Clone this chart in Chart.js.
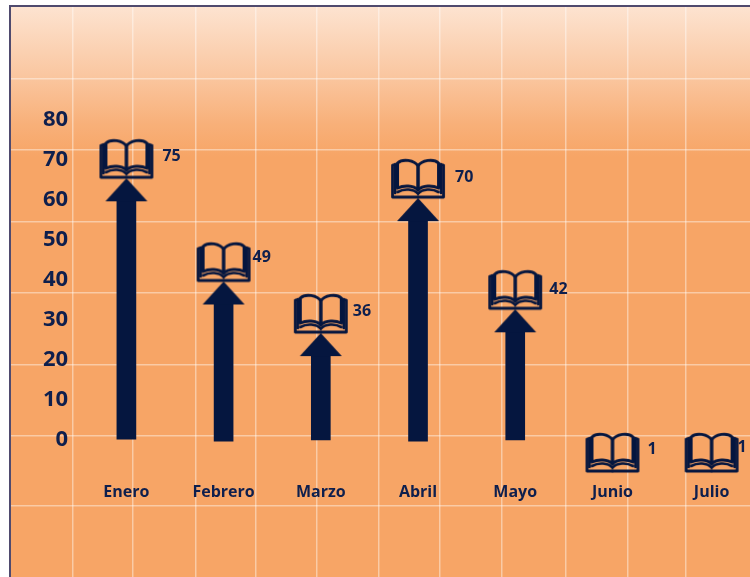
<!DOCTYPE html>
<html><head><meta charset="utf-8">
<script src="https://cdn.jsdelivr.net/npm/chart.js@4/dist/chart.umd.min.js"></script>
<style>html,body{margin:0;padding:0;background:#fff;overflow:hidden}canvas{display:block}</style>
</head><body><canvas id="c" width="750" height="577"></canvas>
<script>
const months = ['Enero','Febrero','Marzo','Abril','Mayo','Junio','Julio'];
const values = [75,49,36,70,42,1,1];
const arrowBase = [9.3,8.8,9.1,8.8,9.1,null,null];
const yTickValues = [0,10,20,30,40,50,60,70,80];
const slots = [0,1,2,3,4,5,6.02];
const gridColumns = [0,0.98,2,2.98,3.97,4.97,5.96,6.97,8.01,9.01,9.96];
const gridRows = [-0.97,0,1,2,3,4,5];
const labelNudge = [[36,-22],[29,-24],[32,-22],[37,-21],[34,-20],[35,-23],[26,-25]];

const INK = '#05163f', TEXT = '#0e1f4d';
const FONT = '"Open Sans", sans-serif';

function makeBook(){
  const c = document.createElement('canvas'); c.width = 56; c.height = 84;
  const g = c.getContext('2d');
  g.strokeStyle = INK; g.lineJoin = 'round'; g.lineCap = 'round';
  g.translate(1.5, 3);
  const half = s => {
    g.save();
    if (s < 0) { g.translate(53, 0); g.scale(-1, 1); }
    g.lineWidth = 3;
    g.beginPath(); g.moveTo(26.5,7); g.bezierCurveTo(23,1,11,-1,6,4); g.lineTo(6,29);
    g.bezierCurveTo(12,26,22,26,26.5,31); g.lineTo(26.5,7); g.stroke();
    g.lineWidth = 2.6;
    g.beginPath(); g.moveTo(6,33); g.bezierCurveTo(13,29,22,30,26.5,34.5); g.stroke();
    g.beginPath(); g.moveTo(3.6,5); g.lineTo(3.6,34); g.stroke();
    g.lineWidth = 2.8;
    g.beginPath(); g.moveTo(5,5); g.lineTo(1,6); g.lineTo(1,38); g.lineTo(26.5,38); g.stroke();
    g.restore();
  };
  half(1); half(-1);
  return c;
}
function makeHead(){
  const c = document.createElement('canvas'); c.width = 44; c.height = 48;
  const g = c.getContext('2d');
  g.fillStyle = INK;
  g.beginPath(); g.moveTo(22,24); g.lineTo(43,47); g.lineTo(1,47); g.closePath(); g.fill();
  return c;
}

const backdrop = {
  id:'backdrop',
  beforeDraw(ch){
    const {ctx, chartArea:a} = ch;
    const g = ctx.createLinearGradient(0,a.top,0,a.top+150);
    g.addColorStop(0,'#fde3d0'); g.addColorStop(0.45,'#fac7a1');
    g.addColorStop(0.78,'#f8b079'); g.addColorStop(1,'#f7a566');
    ctx.save();
    ctx.fillStyle = g; ctx.fillRect(a.left,a.top,a.right-a.left,a.bottom-a.top);
    ctx.strokeStyle = '#4f4a6e'; ctx.lineWidth = 2;
    ctx.beginPath(); ctx.moveTo(a.left-1,a.bottom); ctx.lineTo(a.left-1,a.top-1); ctx.lineTo(a.right,a.top-1); ctx.stroke();
    ctx.restore();
  }
};
const valueLabels = {
  id:'valueLabels',
  afterDatasetsDraw(ch){
    const {ctx, scales:{x,y}} = ch;
    ctx.save();
    ctx.font = '700 16px '+FONT; ctx.fillStyle = TEXT;
    ctx.textAlign='left'; ctx.textBaseline='middle';
    values.forEach((v,i)=>{
      ctx.fillText(String(v), x.getPixelForValue(slots[i])+labelNudge[i][0], y.getPixelForValue(v)+labelNudge[i][1]);
    });
    ctx.restore();
  }
};

const noPad = s=>{s.paddingTop=0;s.paddingBottom=0;s.paddingLeft=0;s.paddingRight=0;};
const gridLine = {color:'rgba(255,255,255,0.42)', lineWidth:1.5, drawTicks:false, offset:false};
new Chart(document.getElementById('c'),{
  type:'bar',
  data:{datasets:[
    {type:'scatter',label:'Libros',order:1,clip:false,xAxisID:'x',yAxisID:'y',
      data:values.map((v,i)=>({x:slots[i],y:v})),pointStyle:makeBook(),pointRadius:5,showLine:false},
    {type:'scatter',label:'Puntas',order:2,clip:false,xAxisID:'x',yAxisID:'y',
      data:values.map((v,i)=>({x:slots[i],y:arrowBase[i]===null?null:v})),pointStyle:makeHead(),pointRadius:5,showLine:false},
    {type:'bar',label:'Flechas',order:3,clip:false,xAxisID:'x',yAxisID:'y',
      data:values.map((v,i)=>({x:slots[i],y:arrowBase[i]===null?null:[arrowBase[i],v-5]})),
      backgroundColor:INK,barThickness:19,borderWidth:0}
  ]},
  plugins:[backdrop,valueLabels],
  options:{
    responsive:false,animation:false,
    layout:{autoPadding:false,padding:{left:11,top:7,right:0,bottom:0}},
    plugins:{legend:{display:false},tooltip:{enabled:false},title:{display:false}},
    scales:{
      x:{type:'linear',offset:false,min:-1.187,max:6.415,position:{y:0.27},afterFit:noPad,
        grid:{display:false,offset:false},border:{display:false},
        afterBuildTicks:s=>{s.ticks=months.map((m,i)=>({value:slots[i],label:m}));},
        ticks:{autoSkip:false,maxRotation:0,padding:0,color:TEXT,font:{family:FONT,size:16,weight:'bold'},
          callback:(v,i)=>months[i]}},
      y:{type:'linear',min:-25.44,max:118.14,display:false},
      yTicks:{axis:'y',type:'linear',min:-34.25,max:108.25,position:{x:-0.6},afterFit:noPad,
        grid:{display:false},border:{display:false},
        afterBuildTicks:s=>{s.ticks=yTickValues.map(v=>({value:v}));},
        ticks:{padding:0,color:TEXT,font:{family:FONT,size:22,weight:'bold'}}},
      xGrid:{axis:'x',type:'linear',bounds:'data',offset:false,position:'bottom',min:-1,max:10.996,grid:gridLine,border:{display:false},
        afterBuildTicks:s=>{s.ticks=gridColumns.map(v=>({value:v}));},
        ticks:{display:false}},
      yGrid:{axis:'y',type:'linear',bounds:'data',offset:false,position:'left',min:-1.97,max:5.997,grid:gridLine,border:{display:false},
        afterBuildTicks:s=>{s.ticks=gridRows.map(v=>({value:v}));},
        ticks:{display:false}}
    }
  }
});
</script></body></html>
